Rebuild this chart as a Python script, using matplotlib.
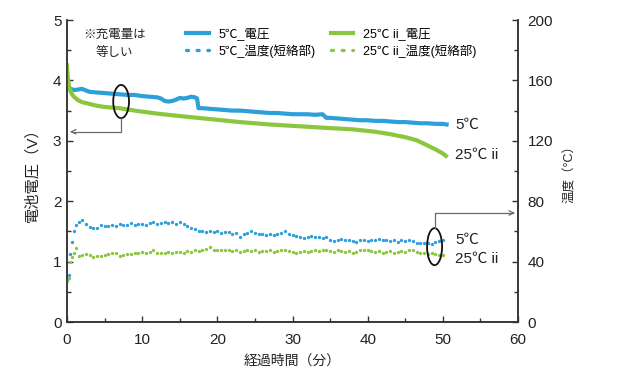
import numpy as np
import matplotlib
matplotlib.use('Agg')
import matplotlib.pyplot as plt
from matplotlib.patches import Ellipse
from matplotlib.lines import Line2D
from matplotlib.ticker import MultipleLocator

plt.rcParams['font.family'] = ['Liberation Sans', 'Noto Sans CJK JP']

BLUE = '#2ca0da'
GREEN = '#8cc63f'
GRAY = '#6a6a6a'
INK = '#222222'

# 電池電圧 (V) -- 5℃
t_v5 = [0, 0.5, 1, 2, 3, 4, 5, 6, 7, 8,
        9, 10, 11, 12, 12.5, 13, 13.5, 14, 14.5, 15,
        15.5, 16, 16.5, 17, 17.3, 17.5, 18, 19, 20, 21,
        22, 23, 24, 25, 26, 27, 28, 29, 30, 31,
        32, 33, 34, 34.5, 35, 36, 37, 38, 39, 40,
        41, 42, 43, 44, 45, 46, 47, 48, 49, 50,
        50.5]
v_5 = [3.90, 3.86, 3.84, 3.86, 3.81, 3.80, 3.79, 3.78, 3.77, 3.76,
       3.76, 3.74, 3.73, 3.72, 3.70, 3.66, 3.65, 3.66, 3.68, 3.71,
       3.70, 3.71, 3.73, 3.72, 3.70, 3.54, 3.54, 3.53, 3.52, 3.51,
       3.50, 3.50, 3.49, 3.48, 3.47, 3.46, 3.46, 3.45, 3.44, 3.44,
       3.44, 3.43, 3.44, 3.38, 3.38, 3.37, 3.36, 3.35, 3.34, 3.34,
       3.33, 3.33, 3.32, 3.31, 3.31, 3.30, 3.29, 3.29, 3.28, 3.28,
       3.27]

# 電池電圧 (V) -- 25℃ ii
t_v25 = [0, 0.1, 0.3, 0.6, 1, 1.5, 2, 3, 4, 5, 7, 9, 12, 15,
         19, 23, 27, 31, 35, 38, 41, 43, 45, 46.5, 48, 49, 50, 50.4]
v_25 = [4.25, 4.05, 3.88, 3.78, 3.72, 3.67, 3.64, 3.61, 3.58, 3.56, 3.54, 3.50, 3.45, 3.41,
        3.36, 3.31, 3.27, 3.24, 3.21, 3.19, 3.15, 3.11, 3.06, 3.01, 2.92, 2.86, 2.79, 2.75]

# 温度 (短絡部, ℃): first minutes, then every 0.5 min from 2.0 to 50.0
t_temp = [0, 0.2, 0.4, 0.6, 0.9, 1.2, 1.6] + list(np.arange(2.0, 50.01, 0.5))
temp_5 = [28, 31, 45, 53, 60, 64, 66.5,
          67.5, 65, 63, 62.5, 62, 64, 63.5, 63.5, 64, 63.5,
          65, 64, 64.5, 65.5, 64.5, 65, 65, 64.5, 65.5, 66.5,
          65, 65.5, 66, 65.5, 66, 65, 66.5, 65, 63.5, 62.5,
          61.5, 60, 60.5, 59.5, 60, 59.5, 60, 59, 59.5, 59.5,
          58.5, 59, 56.5, 58.5, 59, 60, 59, 58, 58.5, 57.5,
          58, 57.5, 58, 59, 60, 58, 57.5, 57, 56.5, 55.5,
          56, 57, 56, 56.5, 55.5, 56, 54.5, 53.5, 54, 55,
          54.5, 54.5, 53.5, 53, 54, 54.5, 53.5, 54, 54.5, 55,
          54.5, 54, 53.5, 54.5, 53, 54, 53.5, 54, 53.5, 52.5,
          52.5, 52, 52, 51.5, 53, 53.5, 54]
temp_25 = [27, 29, 40, 43, 46, 49, 44,
           44.5, 45, 44.5, 43, 44, 44, 44.5, 45, 46, 45.5,
           44, 44.5, 45, 45, 45.5, 46, 46.5, 45.5, 46.5, 47.5,
           46, 45.5, 46, 46.5, 45.5, 46.5, 46.5, 46, 47, 46.5,
           48, 47, 47.5, 48.5, 50, 47.5, 48, 47.5, 47.5, 48,
           47, 47.5, 46.5, 47, 47.5, 47, 47.5, 46.5, 47, 47,
           47.5, 46.5, 47, 47.5, 48, 47, 46.5, 46, 46.5, 47,
           46.5, 47, 47.5, 47, 48, 47.5, 47, 46.5, 47.5, 47,
           46.5, 47, 46, 46.5, 47.5, 48, 47.5, 47, 46.5, 47,
           46, 46.5, 47, 46, 46.5, 47, 46.5, 47.5, 47.5, 46.5,
           46, 45.5, 45, 45.5, 45, 44.5, 44.5]

fig = plt.figure(figsize=(6.2, 3.71), dpi=100)
ax = fig.add_axes([67 / 620, 49 / 371, 451 / 620, 302 / 371])
ax2 = ax.twinx()

ax.plot(t_v5, v_5, color=BLUE, lw=3, solid_joinstyle='round', zorder=3)
ax.plot(t_v25, v_25, color=GREEN, lw=3, solid_joinstyle='round', zorder=3)
ax2.plot(t_temp, temp_5, ls='none', marker='o', ms=2.4, mew=0, color=BLUE)
ax2.plot(t_temp, temp_25, ls='none', marker='o', ms=2.4, mew=0, color=GREEN)

ax.set_xlim(0, 60)
ax.set_ylim(0, 5)
ax2.set_ylim(0, 200)

ax.xaxis.set_major_locator(MultipleLocator(10))
ax.xaxis.set_minor_locator(MultipleLocator(5))
ax.yaxis.set_major_locator(MultipleLocator(1))
ax.yaxis.set_minor_locator(MultipleLocator(0.5))
ax2.yaxis.set_major_locator(MultipleLocator(40))
ax2.yaxis.set_minor_locator(MultipleLocator(20))

for a in (ax, ax2):
    a.spines['top'].set_visible(False)
    for s in ('left', 'right', 'bottom'):
        a.spines[s].set_linewidth(1.1)
        a.spines[s].set_color('#333333')
    a.tick_params(which='both', direction='in', colors='#333333', labelcolor=INK,
                  labelsize=11, width=1)
    a.tick_params(which='major', length=4.5)
    a.tick_params(which='minor', length=3)
ax.tick_params(axis='x', pad=8)
ax.tick_params(axis='y', pad=4)
ax2.tick_params(axis='y', pad=7)

ax.set_xlabel('経過時間（分）', fontsize=10, color=INK, labelpad=5)
ax.set_ylabel('電池電圧（V）', fontsize=11, color=INK, labelpad=10)
ax2.set_ylabel('温度（°C）', fontsize=9, color=INK, labelpad=8)

# ellipses marking the curves and arrows to the axis they belong to
ax.add_patch(Ellipse((7.2, 3.65), 2.1, 0.55, fill=False, ec='#111111', lw=1.3, zorder=4))
ax.plot([7.2, 7.2, 0.6], [3.375, 3.15, 3.15], color=GRAY, lw=0.9, zorder=4)
ax.annotate('', xy=(0.05, 3.15), xytext=(1.0, 3.15),
            arrowprops=dict(arrowstyle='->', color=GRAY, lw=0.9, mutation_scale=8))
ax2.add_patch(Ellipse((48.9, 49.9), 2.0, 24.5, fill=False, ec='#111111', lw=1.3, zorder=4))
ax2.plot([48.9, 48.9, 59.4], [62.2, 72.2, 72.2], color=GRAY, lw=0.9, zorder=4)
ax2.annotate('', xy=(59.95, 72.2), xytext=(59.0, 72.2),
             arrowprops=dict(arrowstyle='->', color=GRAY, lw=0.9, mutation_scale=8))

# curve labels
ax.text(51.6, 3.26, '5℃', fontsize=11, color=INK, va='center', ha='left')
ax.text(51.6, 2.76, '25℃ ii', fontsize=11, color=INK, va='center', ha='left')
ax.text(51.6, 1.36, '5℃', fontsize=11, color=INK, va='center', ha='left')
ax.text(51.6, 1.04, '25℃ ii', fontsize=11, color=INK, va='center', ha='left')

# note and legend
fig.text(83 / 620, 1 - 35 / 371, '※充電量は', fontsize=9, color=INK, va='center')
fig.text(96 / 620, 1 - 53 / 371, '等しい', fontsize=9, color=INK, va='center')
handles = [Line2D([], [], color=BLUE, lw=3),
           Line2D([], [], color=BLUE, lw=2.4, ls=(0, (0.6, 2.6)), dash_capstyle='round'),
           Line2D([], [], color=GREEN, lw=3),
           Line2D([], [], color=GREEN, lw=2.4, ls=(0, (0.6, 2.6)), dash_capstyle='round')]
labels = ['5℃_電圧', '5℃_温度(短絡部)', '25℃ ii_電圧', '25℃ ii_温度(短絡部)']
fig.legend(handles, labels, loc='upper left', bbox_to_anchor=(186 / 620, 1 - 27 / 371),
           ncol=2, frameon=False, fontsize=9, handlelength=1.8, handletextpad=0.8,
           columnspacing=1.2, labelspacing=0.35, borderpad=0, borderaxespad=0)

fig.savefig('out.png', dpi=100)
